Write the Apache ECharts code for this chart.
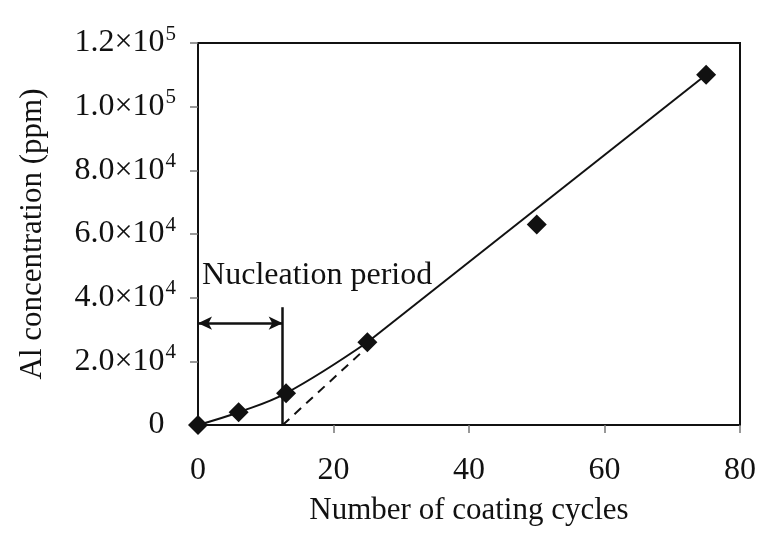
<!DOCTYPE html>
<html>
<head>
<meta charset="utf-8">
<script src="https://cdn.jsdelivr.net/npm/echarts@6/dist/echarts.min.js"></script>
<style>html,body{margin:0;padding:0;background:#fff;}#c{width:771px;height:538px;}</style>
</head>
<body>
<div id="c"></div>
<script>
var cycles = [0, 6, 13, 25, 50, 75];
var alPpm = [0, 4000, 10000, 26000, 63000, 110000];
var yTickLabels = { 0: '0', 20000: '2.0×10^4', 40000: '4.0×10^4', 60000: '6.0×10^4', 80000: '8.0×10^4', 100000: '1.0×10^5', 120000: '1.2×10^5' };
var nucleationEnd = 12.5;
var fitLine = [[25, 26000], [75, 110000]];
var extrapLine = [[12.5, 0], [25, 24500]];
var arrowY = 32000;
var markerTop = 37000;
var annotation = { text: 'Nucleation period', x: 0.6, y: 47000 };

var FONT = '"Liberation Serif", "Times New Roman", serif';
var chart = echarts.init(document.getElementById('c'));
var curveData = cycles.slice(0, 4).map(function (c, i) { return [c, alPpm[i]]; });
var pointData = cycles.map(function (c, i) { return [c, alPpm[i]]; });

chart.setOption({
  animation: false,
  backgroundColor: '#fff',
  grid: { left: 198, right: 31, top: 43, bottom: 113, show: true, borderColor: '#111', borderWidth: 2, backgroundColor: 'transparent' },
  xAxis: {
    type: 'value', min: 0, max: 80, interval: 20,
    name: 'Number of coating cycles', nameLocation: 'middle', nameGap: 70,
    nameTextStyle: { fontFamily: FONT, fontSize: 31, color: '#111' },
    axisLine: { show: true, onZero: false, lineStyle: { color: '#111', width: 2 } },
    axisTick: { show: true, inside: false, length: 8, lineStyle: { color: '#777', width: 1.5 } },
    axisLabel: { fontFamily: FONT, fontSize: 32, color: '#111', margin: 30 },
    splitLine: { show: false }
  },
  yAxis: {
    type: 'value', min: 0, max: 120000, interval: 20000,
    name: 'Al concentration (ppm)', nameLocation: 'middle', nameGap: 150, nameRotate: 90,
    nameTextStyle: { fontFamily: FONT, fontSize: 31, color: '#111' },
    axisLine: { show: true, lineStyle: { color: '#111', width: 2 } },
    axisTick: { show: true, inside: false, length: 8, lineStyle: { color: '#777', width: 1.5 } },
    axisLabel: {
      fontFamily: FONT, fontSize: 32, color: '#111', margin: 22,
      formatter: function (v) {
        var s = yTickLabels[v] || String(v);
        var p = s.split('^');
        return p.length > 1 ? '{b|' + p[0] + '}{s|' + p[1] + '}' : '{b|' + s + '}{h|4}';
      },
      rich: {
        b: { fontFamily: FONT, fontSize: 32, color: '#111' },
        s: { fontFamily: FONT, fontSize: 21, color: '#111', verticalAlign: 'top', padding: [0, 0, 18, 1] },
        h: { fontFamily: FONT, fontSize: 21, color: 'rgba(0,0,0,0)', padding: [0, 0, 0, 1] }
      }
    },
    splitLine: { show: false }
  },
  series: [
    {
      type: 'line', data: curveData, smooth: 0.4, symbol: 'none',
      lineStyle: { color: '#111', width: 2 }, z: 2
    },
    {
      type: 'line', data: fitLine, symbol: 'none',
      lineStyle: { color: '#111', width: 2 }, z: 2
    },
    {
      type: 'line', data: extrapLine, symbol: 'none',
      lineStyle: { color: '#111', width: 2, type: [9, 7] }, z: 2
    },
    {
      type: 'scatter', data: pointData, symbol: 'diamond', symbolSize: 20,
      itemStyle: { color: '#111', opacity: 1 }, z: 5,
      markLine: {
        silent: true, animation: false,
        label: { show: false },
        data: [
          [{ coord: [0, arrowY], symbol: 'arrow' }, { coord: [nucleationEnd, arrowY], symbol: 'arrow' }],
          [{ coord: [nucleationEnd, 0], symbol: 'none' }, { coord: [nucleationEnd, markerTop], symbol: 'none' }]
        ],
        symbolSize: [10, 14],
        lineStyle: { color: '#111', width: 2.5, type: 'solid' }
      },
      markPoint: {
        silent: true, symbol: 'circle', symbolSize: 0,
        data: [{ coord: [annotation.x, annotation.y], value: annotation.text }],
        label: { show: true, position: 'right', distance: 0, formatter: annotation.text, fontFamily: FONT, fontSize: 32, color: '#111' }
      }
    }
  ]
});
</script>
</body>
</html>
